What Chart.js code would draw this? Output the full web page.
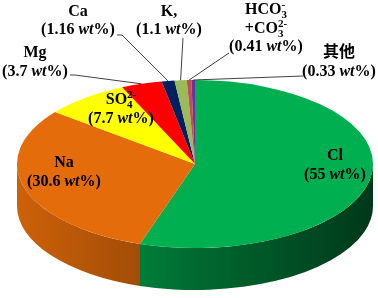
<!DOCTYPE html>
<html>
<head>
<meta charset="utf-8">
<script src="https://cdn.jsdelivr.net/npm/chart.js@4/dist/chart.umd.min.js"></script>
<style>
  body { margin: 0; background: #fff; }
  #wrap { width: 378px; height: 298px; }
</style>
</head>
<body>
<div id="wrap"><canvas id="pie" width="378" height="298"></canvas></div>
<script>
// data (wt%)
const categories = ['Cl', 'Na', 'SO4', 'Mg', 'Ca', 'K', 'HCO3+CO3', '其他'];
const values = [55, 30.6, 7.7, 3.7, 1.16, 1.1, 0.41, 0.33];
const colors = ['#00B050', '#E46C0A', '#FFFF00', '#FF0000', '#002060', '#9BBB59', '#C0504D', '#7030A0'];

// label names, split in runs for sub/superscripts
const nameLines = [
    [[{ t: 'Cl' }]],
    [[{ t: 'Na' }]],
    [[{ t: 'SO' }, { t: '4', sub: true }, { t: '2-', sup: true }]],
    [[{ t: 'Mg' }]],
    [[{ t: 'Ca' }]],
    [[{ t: 'K,' }]],
    [[{ t: 'HCO' }, { t: '3', sub: true }, { t: '-', sup: true }],
     [{ t: '+CO' }, { t: '3', sub: true }, { t: '2-', sup: true }]],
    [[{ t: '其他' }]]
];

// ellipse of the top face and the depth of the side
const CX = 195, CY = 164, RX = 178, RY = 84, DEPTH = 42;

// where each label sits (centre x, first baseline) and where its leader starts
const labelLayout = [
    { x: 335, y: 160, gap: 18.5 },
    { x: 64, y: 167, gap: 18.5 },
    { x: 121, y: 104, gap: 18.5 },
    { x: 35, y: 57, gap: 18.5, lead: [[70, 75], [75, 75]] },
    { x: 78, y: 16, gap: 18, lead: [[117, 35], [122, 35]] },
    { x: 169, y: 16, gap: 18, lead: [[183, 38]] },
    { x: 266, y: 14, gap: 18.5, lead: [[229, 53]] },
    { x: 339, y: 57, gap: 18.5, lead: [[303, 76]] }
];

const FONT = '"Liberation Serif", "Noto Sans CJK SC", serif';

function rgb(hex) {
    const n = parseInt(hex.slice(1), 16);
    return [(n >> 16) & 255, (n >> 8) & 255, n & 255];
}

function shade(hex, f) {
    const c = rgb(hex).map(v => Math.round(v * f));
    return `rgb(${c[0]},${c[1]},${c[2]})`;
}

function runFont(r) {
    if (r.sub || r.sup) return `bold 11px ${FONT}`;
    if (r.it) return `italic bold 16px ${FONT}`;
    return `bold 16px ${FONT}`;
}

function drawRich(ctx, runs, cx, y) {
    // lay out first, then centre
    const placed = [];
    let x = 0, prev = null;
    runs.forEach(r => {
        ctx.font = runFont(r);
        const w = ctx.measureText(r.t).width;
        if (r.sup && prev && prev.r.sub) {
            placed.push({ r, x: prev.x, w });
            x = Math.max(x, prev.x + w);
        } else {
            placed.push({ r, x, w });
            x += w;
        }
        prev = placed[placed.length - 1];
    });
    const left = cx - x / 2;
    ctx.fillStyle = '#000';
    ctx.textBaseline = 'alphabetic';
    ctx.textAlign = 'left';
    placed.forEach(p => {
        ctx.font = runFont(p.r);
        let dy = 0;
        if (p.r.sub) dy = 4;
        if (p.r.sup) dy = -6;
        ctx.fillText(p.r.t, left + p.x, y + dy);
    });
}

const pie3d = {
    id: 'pie3d',
    beforeDatasetsDraw(chart) {
        const ctx = chart.ctx;
        const meta = chart.getDatasetMeta(0);
        // front side of the disc
        meta.data.forEach((arc, i) => {
            const a1 = Math.max(arc.startAngle, 0);
            const a2 = Math.min(arc.endAngle, Math.PI);
            if (a2 <= a1) return;
            const g = ctx.createLinearGradient(CX - RX, 0, CX + RX, 0);
            g.addColorStop(0, shade(colors[i], 0.9));
            g.addColorStop(0.33, shade(colors[i], 0.72));
            g.addColorStop(0.5, shade(colors[i], 0.6));
            g.addColorStop(1, shade(colors[i], 0.32));
            ctx.beginPath();
            ctx.ellipse(CX, CY, RX, RY, 0, a1, a2);
            ctx.ellipse(CX, CY + DEPTH, RX, RY, 0, a2, a1, true);
            ctx.closePath();
            ctx.fillStyle = g;
            ctx.fill();
        });
        // squash the library's circle into the top ellipse
        const a0 = meta.data[0];
        const r0 = a0.outerRadius;
        ctx.save();
        ctx.translate(CX, CY);
        ctx.scale(RX / r0, RY / r0);
        ctx.translate(-a0.x, -a0.y);
    },
    afterDatasetsDraw(chart) {
        chart.ctx.restore();
    },
    afterDraw(chart) {
        const ctx = chart.ctx;
        const meta = chart.getDatasetMeta(0);
        meta.data.forEach((arc, i) => {
            const L = labelLayout[i];
            if (L.lead) {
                const mid = (arc.startAngle + arc.endAngle) / 2;
                const ax = CX + RX * Math.cos(mid);
                const ay = CY + RY * Math.sin(mid);
                ctx.beginPath();
                ctx.moveTo(L.lead[0][0], L.lead[0][1]);
                L.lead.slice(1).forEach(p => ctx.lineTo(p[0], p[1]));
                ctx.lineTo(ax, ay);
                ctx.strokeStyle = '#404040';
                ctx.lineWidth = 1;
                ctx.stroke();
            }
            const lines = nameLines[i].concat([[
                { t: '(' + values[i] + ' ' },
                { t: 'wt', it: true },
                { t: '%)' }
            ]]);
            lines.forEach((runs, k) => drawRich(ctx, runs, L.x, L.y + k * L.gap));
        });
    }
};

new Chart(document.getElementById('pie'), {
    type: 'pie',
    data: {
        labels: categories,
        datasets: [{
            data: values,
            backgroundColor: colors,
            borderWidth: 0,
            clip: false
        }]
    },
    options: {
        responsive: false,
        animation: false,
        events: [],
        plugins: {
            legend: { display: false },
            tooltip: { enabled: false }
        }
    },
    plugins: [pie3d]
});
</script>
</body>
</html>
